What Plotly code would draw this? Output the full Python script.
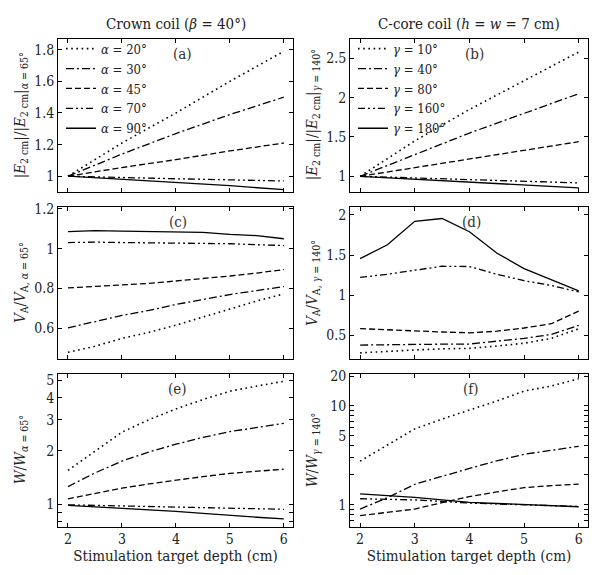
import plotly.graph_objects as go

depth = [2, 2.5, 3, 3.5, 4, 4.5, 5, 5.5, 6]
depth5 = [2, 3, 4, 5, 6]

crown_labels = ["<i>α</i> = 20°", "<i>α</i> = 30°", "<i>α</i> = 45°", "<i>α</i> = 70°", "<i>α</i> = 90°"]
ccore_labels = ["<i>γ</i> = 10°", "<i>γ</i> = 40°", "<i>γ</i> = 80°", "<i>γ</i> = 160°", "<i>γ</i> = 180°"]

# (a) |E_2cm| ratio, crown coil
a_E = [
    [1.0, 1.21, 1.40, 1.60, 1.79],
    [1.0, 1.14, 1.27, 1.39, 1.50],
    [1.0, 1.055, 1.105, 1.16, 1.21],
    [1.0, 0.99, 0.984, 0.977, 0.97],
    [1.0, 0.98, 0.96, 0.94, 0.915],
]
# (b) |E_2cm| ratio, C-core coil
b_E = [
    [1.0, 1.45, 1.85, 2.22, 2.58],
    [1.0, 1.28, 1.55, 1.80, 2.05],
    [1.0, 1.11, 1.22, 1.33, 1.44],
    [1.0, 0.98, 0.96, 0.94, 0.916],
    [1.0, 0.965, 0.93, 0.89, 0.853],
]
# (c) V_A ratio, crown coil
c_V = [
    [0.48, 0.51, 0.55, 0.58, 0.616, 0.657, 0.697, 0.738, 0.773],
    [0.603, 0.635, 0.665, 0.69, 0.72, 0.745, 0.77, 0.79, 0.81],
    [0.803, 0.81, 0.817, 0.826, 0.838, 0.85, 0.863, 0.878, 0.895],
    [1.031, 1.033, 1.031, 1.03, 1.03, 1.027, 1.025, 1.02, 1.016],
    [1.086, 1.091, 1.088, 1.087, 1.086, 1.082, 1.072, 1.066, 1.05],
]
# (d) V_A ratio, C-core coil
d_V = [
    [0.28, 0.30, 0.316, 0.33, 0.336, 0.365, 0.40, 0.46, 0.58],
    [0.377, 0.377, 0.385, 0.388, 0.39, 0.426, 0.46, 0.51, 0.623],
    [0.582, 0.566, 0.55, 0.54, 0.53, 0.55, 0.59, 0.643, 0.80],
    [1.22, 1.26, 1.31, 1.36, 1.356, 1.26, 1.18, 1.12, 1.04],
    [1.455, 1.627, 1.92, 1.955, 1.79, 1.525, 1.33, 1.19, 1.053],
]
# (e) W ratio, crown coil
e_W = [
    [1.55, 2.0, 2.55, 3.0, 3.45, 3.9, 4.35, 4.65, 4.95],
    [1.255, 1.5, 1.75, 1.97, 2.18, 2.38, 2.57, 2.72, 2.86],
    [1.07, 1.15, 1.23, 1.30, 1.37, 1.43, 1.49, 1.535, 1.576],
    [0.99, 0.982, 0.975, 0.97, 0.966, 0.958, 0.95, 0.942, 0.934],
    [0.983, 0.966, 0.95, 0.93, 0.91, 0.885, 0.86, 0.842, 0.824],
]
# (f) W ratio, C-core coil
f_W = [
    [2.76, 4.0, 5.85, 7.36, 9.06, 11.2, 14.1, 15.9, 18.8],
    [0.905, 1.18, 1.61, 1.95, 2.33, 2.78, 3.24, 3.55, 3.9],
    [0.776, 0.84, 0.905, 1.05, 1.21, 1.35, 1.49, 1.56, 1.62],
    [1.15, 1.135, 1.12, 1.08, 1.04, 1.02, 1.0, 0.98, 0.96],
    [1.29, 1.24, 1.19, 1.12, 1.055, 1.03, 1.0, 0.975, 0.955],
]

dashes = ["1.6px,3.6px", "8px,3px,2px,3px", "6px,3px", "7px,3px,2px,3px,2px,3px", "solid"]
widths = [1.6, 1.3, 1.3, 1.3, 1.3]

FONT = "DejaVu Serif Condensed, DejaVu Serif"
TXT = "#222"
W, H = 601, 575

def px_x(a, b):
    return [a / W, b / W]

def px_y(top, bot):
    return [1 - bot / H, 1 - top / H]

colx = [px_x(58, 293), px_x(350, 588)]
rowy = [px_y(33, 188), px_y(203, 357), px_y(372, 526)]

fig = go.Figure()

panels = [
    (a_E, depth5, crown_labels, "legend"),
    (b_E, depth5, ccore_labels, "legend2"),
    (c_V, depth, None, None),
    (d_V, depth, None, None),
    (e_W, depth, None, None),
    (f_W, depth, None, None),
]

for idx, (data, xs, labels, leg) in enumerate(panels):
    n = idx + 1
    xa = "x" if n == 1 else f"x{n}"
    ya = "y" if n == 1 else f"y{n}"
    for k, ys in enumerate(data):
        fig.add_trace(go.Scatter(
            x=xs, y=ys, mode="lines", xaxis=xa, yaxis=ya,
            line=dict(color="black", width=widths[k], dash=dashes[k]),
            name=labels[k] if labels else "",
            showlegend=bool(labels),
            legend=leg if leg else "legend",
        ))

axis_common = dict(
    showline=True, linecolor="black", linewidth=1, mirror="ticks",
    ticks="inside", ticklen=4, tickcolor="black", showgrid=False, zeroline=False,
    tickfont=dict(family=FONT, size=14, color=TXT),
)

yranges = [[0.9, 1.87], [0.8, 2.75], [0.445, 1.21], [0.2, 2.1]]
ytickvals = [
    [1, 1.2, 1.4, 1.6, 1.8],
    [1, 1.5, 2, 2.5],
    [0.6, 0.8, 1, 1.2],
    [0.5, 1, 1.5, 2],
]
yticktext = [
    ["1", "1.2", "1.4", "1.6", "1.8"],
    ["1", "1.5", "2", "2.5"],
    ["0.6", "0.8", "1", "1.2"],
    ["0.5", "1", "1.5", "2"],
]
e_tv = [1, 2, 3, 4, 5]
e_minor = [0.8, 0.9]
f_tv = [1, 5, 10, 20]
f_minor = [0.7, 0.8, 0.9, 2, 3, 4, 6, 7, 8, 9]

layout = {}
for idx in range(6):
    n = idx + 1
    r, c = idx // 2, idx % 2
    xk = "xaxis" if n == 1 else f"xaxis{n}"
    yk = "yaxis" if n == 1 else f"yaxis{n}"
    xa = dict(axis_common, domain=colx[c], anchor="y" if n == 1 else f"y{n}",
              range=[1.815, 6.17], tickvals=[2, 3, 4, 5, 6],
              showticklabels=(r == 2))
    if r == 2:
        xa["title"] = dict(text="Stimulation target depth (cm)",
                           font=dict(family=FONT, size=15, color=TXT), standoff=4)
    layout[xk] = xa
    ya = dict(axis_common, domain=rowy[r], anchor="x" if n == 1 else f"x{n}")
    if r < 2:
        ya.update(range=yranges[idx], tickvals=ytickvals[idx], ticktext=yticktext[idx])
    else:
        tv, mv, rng = (e_tv, e_minor, [-0.127, 0.735]) if c == 0 else (f_tv, f_minor, [-0.22, 1.321])
        ya.update(type="log", range=rng, tickvals=tv, ticktext=[str(v) for v in tv],
                  minor=dict(tickmode="array", tickvals=mv, ticks="inside", ticklen=4,
                             tickcolor="black", showgrid=False))
    layout[yk] = ya

fig.update_layout(**layout)

legend_style = dict(
    font=dict(family=FONT, size=13, color=TXT),
    bgcolor="rgba(0,0,0,0)", borderwidth=0, tracegroupgap=0,
    itemwidth=30, xanchor="left", yanchor="top",
)
fig.update_layout(
    width=W, height=H, margin=dict(l=0, r=0, t=0, b=0),
    plot_bgcolor="white", paper_bgcolor="white",
    legend=dict(legend_style, x=61 / W, y=1 - 28 / H),
    legend2=dict(legend_style, x=353 / W, y=1 - 28 / H),
)

ann = []
# column titles
ann.append(dict(text="Crown coil (<i>β</i> = 40°)", x=(58 + 293) / 2 / W, y=1 - 18 / H,
                xref="paper", yref="paper", showarrow=False, xanchor="center", yanchor="middle",
                font=dict(family=FONT, size=15, color=TXT)))
ann.append(dict(text="C-core coil (<i>h</i> = <i>w</i> = 7 cm)", x=(350 + 588) / 2 / W, y=1 - 18 / H,
                xref="paper", yref="paper", showarrow=False, xanchor="center", yanchor="middle",
                font=dict(family=FONT, size=15, color=TXT)))
# panel letters
letters = ["(a)", "(b)", "(c)", "(d)", "(e)", "(f)"]
lx = [0.53, 0.525, 0.51, 0.51, 0.51, 0.51]
for idx, t in enumerate(letters):
    n = idx + 1
    ann.append(dict(text=t, x=lx[idx], y=0.9, xref=("x" if n == 1 else f"x{n}") + " domain",
                    yref=("y" if n == 1 else f"y{n}") + " domain", showarrow=False,
                    xanchor="center", yanchor="middle",
                    font=dict(family=FONT, size=15, color="#333")))
# y titles
ytitles = [
    "|<i>E</i><sub>2 cm</sub>|/|<i>E</i><sub>2 cm</sub>|<sub><i>α</i> = 65°</sub>",
    "|<i>E</i><sub>2 cm</sub>|/|<i>E</i><sub>2 cm</sub>|<sub><i>γ</i> = 140°</sub>",
    "<i>V</i><sub>A</sub>/<i>V</i><sub>A, <i>α</i> = 65°</sub>",
    "<i>V</i><sub>A</sub>/<i>V</i><sub>A, <i>γ</i> = 140°</sub>",
    "<i>W</i>/<i>W</i><sub><i>α</i> = 65°</sub>",
    "<i>W</i>/<i>W</i><sub><i>γ</i> = 140°</sub>",
]
ytx = [20, 312]
for idx, t in enumerate(ytitles):
    r, c = idx // 2, idx % 2
    ann.append(dict(text=t, x=ytx[c] / W, y=sum(rowy[r]) / 2, xref="paper", yref="paper",
                    showarrow=False, textangle=-90, xanchor="center", yanchor="middle",
                    font=dict(family=FONT, size=15, color=TXT)))
fig.update_layout(annotations=ann)

fig.write_html("out.html", post_script="document.body.style.margin='0';",
               config={"displayModeBar": False})
